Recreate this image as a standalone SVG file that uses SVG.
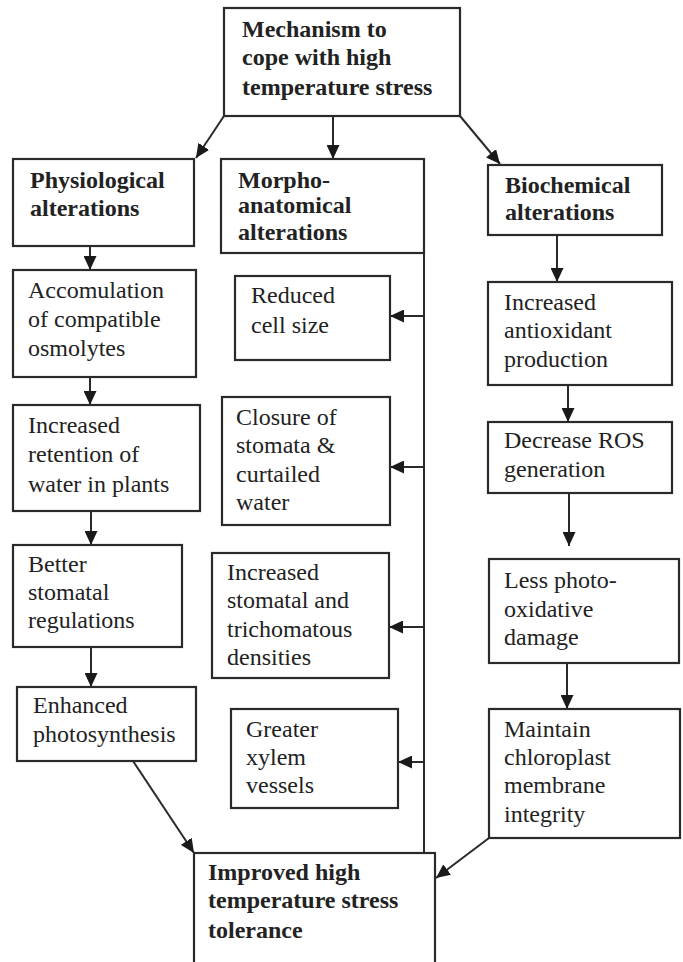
<svg xmlns="http://www.w3.org/2000/svg" width="683" height="962" viewBox="0 0 683 962">
  <style>
    .box { fill: #ffffff; stroke: #2a2a2a; stroke-width: 2.2; }
    .t { font-family: "Liberation Serif", "Times New Roman", serif; font-size: 24px; fill: #222222; }
    .b { font-weight: bold; }
    .edge { fill: none; stroke: #2a2a2a; stroke-width: 2; }
  </style>
  <defs>
    <marker id="arrow" markerUnits="userSpaceOnUse" markerWidth="15" markerHeight="13" refX="14" refY="6.5" orient="auto">
      <path d="M0,0 L14,6.5 L0,13 Z" fill="#1a1a1a"/>
    </marker>
  </defs>
  <rect width="683" height="962" fill="#ffffff"/>

  <!-- connectors -->
  <g id="connectors">
    <line class="edge" x1="224" y1="116" x2="196" y2="158" marker-end="url(#arrow)"/>
    <line class="edge" x1="333" y1="116" x2="333" y2="159" marker-end="url(#arrow)"/>
    <line class="edge" x1="460" y1="116" x2="500" y2="164" marker-end="url(#arrow)"/>

    <line class="edge" x1="90" y1="246" x2="90" y2="270" marker-end="url(#arrow)"/>
    <line class="edge" x1="90" y1="377" x2="90" y2="405" marker-end="url(#arrow)"/>
    <line class="edge" x1="91" y1="511" x2="91" y2="545" marker-end="url(#arrow)"/>
    <line class="edge" x1="91" y1="647" x2="91" y2="687" marker-end="url(#arrow)"/>

    <line class="edge" x1="424" y1="253" x2="424" y2="853"/>
    <line class="edge" x1="424" y1="316" x2="390" y2="316" marker-end="url(#arrow)"/>
    <line class="edge" x1="424" y1="467" x2="390" y2="467" marker-end="url(#arrow)"/>
    <line class="edge" x1="424" y1="627" x2="389" y2="627" marker-end="url(#arrow)"/>
    <line class="edge" x1="424" y1="762" x2="398" y2="762" marker-end="url(#arrow)"/>

    <line class="edge" x1="557" y1="235" x2="557" y2="282" marker-end="url(#arrow)"/>
    <line class="edge" x1="568" y1="385" x2="568" y2="422" marker-end="url(#arrow)"/>
    <line class="edge" x1="569" y1="493" x2="569" y2="546" marker-end="url(#arrow)"/>
    <line class="edge" x1="567" y1="663" x2="567" y2="709" marker-end="url(#arrow)"/>

    <line class="edge" x1="133" y1="761" x2="194" y2="853" marker-end="url(#arrow)"/>
    <line class="edge" x1="489" y1="838" x2="436" y2="878" marker-end="url(#arrow)"/>
  </g>

  <!-- root -->
  <g id="mechanism">
    <rect class="box" x="224" y="8" width="236" height="108"/>
    <text class="t b" x="242" y="37">Mechanism to</text>
    <text class="t b" x="242" y="65">cope with high</text>
    <text class="t b" x="242" y="95">temperature stress</text>
  </g>

  <!-- physiological branch -->
  <g id="physiological">
    <rect class="box" x="13" y="159" width="181" height="87"/>
    <text class="t b" x="30" y="188">Physiological</text>
    <text class="t b" x="30" y="216">alterations</text>
  </g>
  <g id="osmolytes">
    <rect class="box" x="13" y="270" width="183" height="107"/>
    <text class="t" x="28" y="298">Accomulation</text>
    <text class="t" x="28" y="327">of compatible</text>
    <text class="t" x="28" y="356">osmolytes</text>
  </g>
  <g id="water-retention">
    <rect class="box" x="13" y="405" width="187" height="106"/>
    <text class="t" x="28" y="433">Increased</text>
    <text class="t" x="28" y="462">retention of</text>
    <text class="t" x="28" y="492">water in plants</text>
  </g>
  <g id="stomatal-regulation">
    <rect class="box" x="13" y="545" width="169" height="102"/>
    <text class="t" x="28" y="572">Better</text>
    <text class="t" x="28" y="600">stomatal</text>
    <text class="t" x="28" y="628">regulations</text>
  </g>
  <g id="photosynthesis">
    <rect class="box" x="17" y="687" width="179" height="74"/>
    <text class="t" x="33" y="713">Enhanced</text>
    <text class="t" x="33" y="742">photosynthesis</text>
  </g>

  <!-- morpho-anatomical branch -->
  <g id="morpho-anatomical">
    <rect class="box" x="221" y="159" width="203" height="94"/>
    <text class="t b" x="238" y="188">Morpho-</text>
    <text class="t b" x="238" y="213">anatomical</text>
    <text class="t b" x="238" y="240">alterations</text>
  </g>
  <g id="cell-size">
    <rect class="box" x="235" y="276" width="155" height="84"/>
    <text class="t" x="251" y="303">Reduced</text>
    <text class="t" x="251" y="333">cell size</text>
  </g>
  <g id="stomata-closure">
    <rect class="box" x="222" y="397" width="168" height="128"/>
    <text class="t" x="236" y="425">Closure of</text>
    <text class="t" x="236" y="453">stomata &amp;</text>
    <text class="t" x="236" y="482">curtailed</text>
    <text class="t" x="236" y="510">water</text>
  </g>
  <g id="densities">
    <rect class="box" x="212" y="553" width="177" height="125"/>
    <text class="t" x="227" y="580">Increased</text>
    <text class="t" x="227" y="608">stomatal and</text>
    <text class="t" x="227" y="637">trichomatous</text>
    <text class="t" x="227" y="665">densities</text>
  </g>
  <g id="xylem">
    <rect class="box" x="231" y="709" width="167" height="99"/>
    <text class="t" x="246" y="737">Greater</text>
    <text class="t" x="246" y="765">xylem</text>
    <text class="t" x="246" y="793">vessels</text>
  </g>

  <!-- biochemical branch -->
  <g id="biochemical">
    <rect class="box" x="488" y="165" width="174" height="70"/>
    <text class="t b" x="505" y="193">Biochemical</text>
    <text class="t b" x="505" y="220">alterations</text>
  </g>
  <g id="antioxidant">
    <rect class="box" x="488" y="282" width="184" height="103"/>
    <text class="t" x="504" y="310">Increased</text>
    <text class="t" x="504" y="338">antioxidant</text>
    <text class="t" x="504" y="367">production</text>
  </g>
  <g id="ros">
    <rect class="box" x="488" y="422" width="184" height="71"/>
    <text class="t" x="504" y="448">Decrease ROS</text>
    <text class="t" x="504" y="477">generation</text>
  </g>
  <g id="photo-oxidative">
    <rect class="box" x="489" y="559" width="190" height="104"/>
    <text class="t" x="504" y="588">Less photo-</text>
    <text class="t" x="504" y="617">oxidative</text>
    <text class="t" x="504" y="645">damage</text>
  </g>
  <g id="chloroplast">
    <rect class="box" x="489" y="709" width="191" height="129"/>
    <text class="t" x="504" y="737">Maintain</text>
    <text class="t" x="504" y="765">chloroplast</text>
    <text class="t" x="504" y="793">membrane</text>
    <text class="t" x="504" y="822">integrity</text>
  </g>

  <!-- outcome -->
  <g id="tolerance">
    <rect class="box" x="194" y="853" width="241" height="112"/>
    <text class="t b" x="208" y="880">Improved high</text>
    <text class="t b" x="208" y="908">temperature stress</text>
    <text class="t b" x="208" y="938">tolerance</text>
  </g>
</svg>
